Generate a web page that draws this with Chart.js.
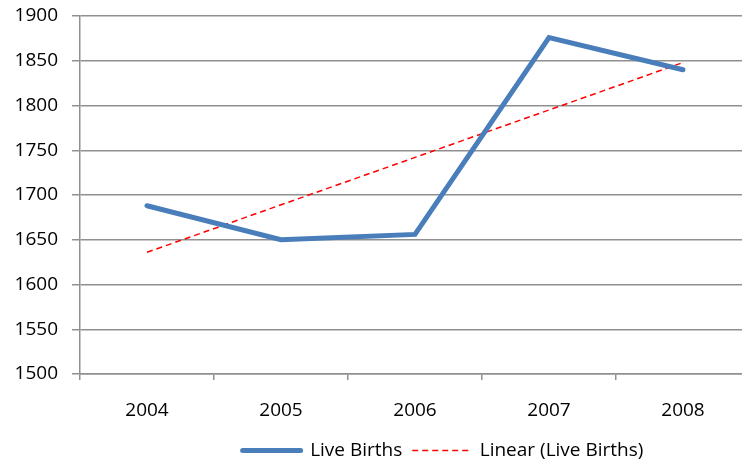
<!DOCTYPE html>
<html>
<head>
<meta charset="utf-8">
<script src="https://cdn.jsdelivr.net/npm/chart.js@4/dist/chart.umd.min.js"></script>
<style>
    html, body { margin: 0; padding: 0; background: #fff; overflow: hidden; }
    #wrap { width: 750px; height: 464px; }
</style>
</head>
<body>
<div id="wrap"><canvas id="grafico"></canvas></div>
<script>
// Dados
const anos = ["2004", "2005", "2006", "2007", "2008"];
const nascimentos = [1688, 1650, 1656, 1876, 1840];
// Tendência linear: apenas as extremidades
const tendencia = [1636, null, null, null, 1848];
const ticksY = [1500, 1550, 1600, 1650, 1700, 1750, 1800, 1850, 1900];

const fonte = { family: "'Open Sans', Lato, sans-serif", size: 19 };
const corGrade = "#909090";

// Desloca a legenda para a direita, como no original
const moverLegenda = {
    id: "moverLegenda",
    afterLayout(chart) {
        const lg = chart.legend;
        if (lg) { lg.left += 68; lg.right += 68; }
    }
};

new Chart(document.getElementById("grafico"), {
    type: "line",
    data: {
        labels: anos,
        datasets: [
            {
                label: "Live Births",
                data: nascimentos,
                borderColor: "#4a7ebb",
                backgroundColor: "#4a7ebb",
                borderWidth: 5,
                borderCapStyle: "round",
                borderJoinStyle: "miter",
                pointRadius: 0,
                tension: 0,
                pointStyle: "line"
            },
            {
                label: "Linear (Live Births)",
                data: tendencia,
                borderColor: "#ff0000",
                backgroundColor: "#ff0000",
                borderWidth: 1.5,
                borderDash: [6, 4],
                spanGaps: true,
                pointRadius: 0,
                tension: 0,
                pointStyle: "line"
            }
        ]
    },
    plugins: [moverLegenda],
    options: {
        responsive: true, maintainAspectRatio: false,
        animation: false,
        layout: { padding: { top: 16, right: 0, left: 0, bottom: -6 } },
        plugins: {
            tooltip: { enabled: false },
            legend: {
                position: "bottom",
                labels: {
                    usePointStyle: true,
                    pointStyleWidth: 58,
                    boxHeight: 19,
                    padding: 10,
                    color: "#000",
                    font: fonte,
                    generateLabels: (chart) => {
                        const itens = Chart.defaults.plugins.legend.labels.generateLabels(chart);
                        itens.forEach((it, i) => {
                            const ds = chart.data.datasets[i];
                            it.lineWidth = ds.borderWidth;
                            it.lineDash = ds.borderDash || [];
                            it.lineCap = ds.borderDash ? "butt" : "round";
                            it.strokeStyle = ds.borderColor;
                        });
                        return itens;
                    }
                }
            }
        },
        scales: {
            x: {
                offset: true,
                afterFit: (s) => { s.height = 57; },
                grid: { drawOnChartArea: false, offset: true, tickLength: 6, color: corGrade, lineWidth: 1.5 },
                border: { color: corGrade, width: 1.5 },
                ticks: { color: "#000", font: fonte, padding: 19, maxRotation: 0 }
            },
            y: {
                min: 1500, max: 1900,
                afterFit: (s) => { s.width = 80; s.paddingTop = 0; s.paddingBottom = 0; },
                afterBuildTicks: (s) => { s.ticks = ticksY.map(v => ({ value: v })); },
                grid: { color: corGrade, lineWidth: 1.5, tickLength: 8 },
                border: { color: corGrade, width: 1.5 },
                ticks: { color: "#000", font: fonte, padding: 14, callback: (v) => String(v) }
            }
        }
    }
});
</script>
</body>
</html>
